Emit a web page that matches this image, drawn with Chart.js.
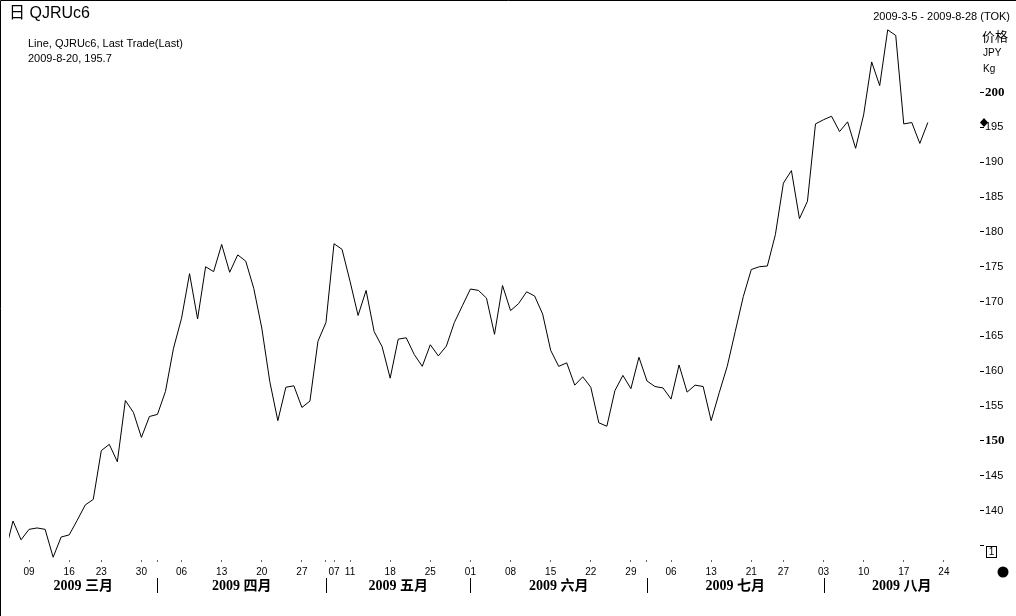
<!DOCTYPE html>
<html><head><meta charset="utf-8">
<script src="https://cdn.jsdelivr.net/npm/chart.js@4"></script>
<style>html,body{margin:0;padding:0;background:#fff;}canvas{display:block}</style>
</head><body>
<canvas id="c" width="1016" height="616"></canvas>
<script>
// Trading days (TOCOM), the first one precedes the range start and is clipped at the left edge
const dates = [
 '2009-03-04','2009-03-05','2009-03-06','2009-03-09','2009-03-10','2009-03-11','2009-03-12','2009-03-13',
 '2009-03-16','2009-03-17','2009-03-18','2009-03-19','2009-03-23','2009-03-24','2009-03-25','2009-03-26','2009-03-27',
 '2009-03-30','2009-03-31',
 '2009-04-01','2009-04-02','2009-04-03','2009-04-06','2009-04-07','2009-04-08','2009-04-09','2009-04-10',
 '2009-04-13','2009-04-14','2009-04-15','2009-04-16','2009-04-17','2009-04-20','2009-04-21','2009-04-22','2009-04-23','2009-04-24',
 '2009-04-27','2009-04-28','2009-04-30',
 '2009-05-01','2009-05-07','2009-05-08','2009-05-11','2009-05-12','2009-05-13','2009-05-14','2009-05-15',
 '2009-05-18','2009-05-19','2009-05-20','2009-05-21','2009-05-22','2009-05-25','2009-05-26','2009-05-27','2009-05-28','2009-05-29',
 '2009-06-01','2009-06-02','2009-06-03','2009-06-04','2009-06-05','2009-06-08','2009-06-09','2009-06-10','2009-06-11','2009-06-12',
 '2009-06-15','2009-06-16','2009-06-17','2009-06-18','2009-06-19','2009-06-22','2009-06-23','2009-06-24','2009-06-25','2009-06-26',
 '2009-06-29','2009-06-30',
 '2009-07-01','2009-07-02','2009-07-03','2009-07-06','2009-07-07','2009-07-08','2009-07-09','2009-07-10',
 '2009-07-13','2009-07-14','2009-07-15','2009-07-16','2009-07-17','2009-07-21','2009-07-22','2009-07-23','2009-07-24',
 '2009-07-27','2009-07-28','2009-07-29','2009-07-30','2009-07-31',
 '2009-08-03','2009-08-04','2009-08-05','2009-08-06','2009-08-07','2009-08-10','2009-08-11','2009-08-12','2009-08-13','2009-08-14',
 '2009-08-17','2009-08-18','2009-08-19','2009-08-20','2009-08-21','2009-08-24','2009-08-25','2009-08-26','2009-08-27','2009-08-28'
];
// Last trade, JPY/kg
const prices = [
 133.9,138.5,135.8,137.3,137.5,137.3,133.3,136.2,
 136.5,138.6,140.8,141.6,148.6,149.5,147.0,155.8,154.1,
 150.5,153.5,
 153.8,157.1,163.3,167.6,174.0,167.5,175.0,174.3,
 178.2,174.2,176.7,175.8,171.9,166.2,158.5,152.9,157.7,157.9,
 154.8,155.7,164.3,
 167.0,178.3,177.5,172.9,168.0,171.6,165.7,163.5,
 159.0,164.6,164.8,162.4,160.7,163.8,162.2,163.6,167.0,169.4,
 171.8,171.6,170.5,165.3,172.3,168.7,169.7,171.4,170.8,168.2,
 163.0,160.7,161.2,158.0,159.2,157.7,152.6,152.1,157.2,159.4,
 157.5,162.0,
 158.6,157.8,157.6,156.0,160.9,157.0,158.0,157.8,
 152.9,156.9,160.7,165.7,170.7,174.6,175.0,175.1,179.6,
 187.0,188.8,181.9,184.4,195.5,
 196.1,196.6,194.4,195.8,192.0,196.8,204.4,201.0,209.0,208.2,
 195.5,195.7,192.7,195.7
];
const tickDates = ['2009-03-09','2009-03-16','2009-03-23','2009-03-30','2009-04-06','2009-04-13','2009-04-20','2009-04-27',
 '2009-05-07','2009-05-11','2009-05-18','2009-05-25','2009-06-01','2009-06-08','2009-06-15','2009-06-22','2009-06-29',
 '2009-07-06','2009-07-13','2009-07-21','2009-07-27','2009-08-03','2009-08-10','2009-08-17','2009-08-24'];
const tickLabels = ['09','16','23','30','06','13','20','27','07','11','18','25','01','08','15','22','29','06','13','21','27','03','10','17','24'];
const monthStartDates = ['2009-04-01','2009-05-01','2009-06-01','2009-07-01','2009-08-03'];
const monthLabels = ['2009 三月','2009 四月','2009 五月','2009 六月','2009 七月','2009 八月'];
const yTickValues = [135,140,145,150,155,160,165,170,175,180,185,190,195,200];
const yLabelled = [140,145,150,155,160,165,170,175,180,185,190,195,200];
const yMajor = [150,200];
const titleText = '日 QJRUc6';
const infoLines = ['Line, QJRUc6, Last Trade(Last)','2009-8-20, 195.7'];
const rangeText = '2009-3-5 - 2009-8-28 (TOK)';
const unitLines = ['价格','JPY','Kg'];

const tickIdx = tickDates.map(d => dates.indexOf(d));
const monthIdx = monthStartDates.map(d => dates.indexOf(d));
const allTickIdx = Array.from(new Set(tickIdx.concat(monthIdx))).sort((a,b)=>a-b);
const lastValue = prices[prices.length-1];

const SANS = "'Liberation Sans', Arial, 'Noto Sans CJK SC', sans-serif";
const decor = {
  id:'decor',
  afterDraw(chart){
    const c = chart.ctx, xs = chart.scales.x, ys = chart.scales.y, a = chart.chartArea;
    c.save();
    c.strokeStyle = '#000'; c.lineWidth = 1;
    c.beginPath(); c.moveTo(0.5,616); c.lineTo(0.5,0.5); c.lineTo(1016,0.5); c.stroke();
    c.fillStyle = '#000'; c.textBaseline = 'middle'; c.textAlign = 'left';
    c.font = "16px " + SANS;
    c.fillText(titleText, 9, 14);
    c.font = "11px " + SANS;
    c.fillText(infoLines[0], 28, 44);
    c.fillText(infoLines[1], 28, 59);
    c.textAlign = 'right';
    c.fillText(rangeText, 1010, 17);
    c.textAlign = 'left';
    c.font = "13px 'Noto Sans CJK SC', sans-serif";
    c.fillText(unitLines[0], 982, 36);
    c.font = "10px " + SANS;
    c.fillText(unitLines[1], 983, 53);
    c.fillText(unitLines[2], 983, 69);
    const seps = monthIdx.map(i => xs.getPixelForValue(i));
    const edges = [a.left].concat(seps, [a.right]);
    c.beginPath();
    seps.forEach(x => { const px = Math.round(x)+0.5; c.moveTo(px, 578); c.lineTo(px, 593); });
    c.stroke();
    c.font = "bold 14px 'Liberation Serif', 'Noto Sans CJK SC', serif";
    c.textAlign = 'center';
    monthLabels.forEach((t,i) => c.fillText(t, (edges[i]+edges[i+1])/2, 586));
    const yd = ys.getPixelForValue(lastValue), xd = 984;
    c.beginPath(); c.moveTo(xd, yd-4.5); c.lineTo(xd+4, yd); c.lineTo(xd, yd+4.5); c.lineTo(xd-4, yd); c.closePath(); c.fill();
    c.fillStyle = '#fff'; c.fillRect(986, 546, 11, 12); c.fillStyle = '#000';
    c.strokeRect(986.5, 546.5, 10, 11);
    c.font = "10px " + SANS; c.textAlign = 'center';
    c.fillText('1', 991.5, 552.5);
    c.beginPath(); c.arc(1003, 572, 5.5, 0, Math.PI*2); c.fill();
    c.restore();
  }
};

new Chart(document.getElementById('c'), {
  type:'line',
  data:{ datasets:[{ data: prices.map((v,i)=>({x:i, y:v})), borderColor:'#000', borderWidth:1, pointRadius:0, tension:0, fill:false }] },
  options:{
    responsive:false, animation:false, devicePixelRatio:1,
    layout:{padding:{left:9, right:0, top:2, bottom:0}},
    plugins:{legend:{display:false}, tooltip:{enabled:false}},
    scales:{
      x:{
        type:'linear', min:0.5, max:dates.length-0.5,
        afterBuildTicks: s => { s.ticks = allTickIdx.map(v => ({value:v})); },
        afterFit: s => { s.height = 56; s.paddingLeft = 0; s.paddingRight = 0; },
        grid:{display:true, drawOnChartArea:false, drawTicks:true, tickLength:2, color:'#666'},
        border:{display:false},
        ticks:{autoSkip:false, maxRotation:0, minRotation:0, padding:4, color:'#000',
          font:{family:"'Liberation Sans', Arial, sans-serif", size:10},
          callback: v => { const k = tickIdx.indexOf(v); return k >= 0 ? tickLabels[k] : ''; } }
      },
      y:{
        position:'right', min:132.9, max:213.0,
        afterBuildTicks: s => { s.ticks = yTickValues.map(v => ({value:v})); },
        afterFit: s => { s.width = 36; s.paddingTop = 0; s.paddingBottom = 0; },
        grid:{display:true, drawOnChartArea:false, drawTicks:true, tickLength:4, color:'#000', offset:false},
        border:{display:false},
        ticks:{padding:1, color:'#000', callback: v => yLabelled.includes(v) ? String(v) : '',
          font: ctx => (ctx.tick && yMajor.includes(ctx.tick.value)) ? {family:"'Liberation Serif', serif", size:13, weight:'bold'} : {family:"'Liberation Sans', Arial, sans-serif", size:11} }
      }
    }
  },
  plugins:[decor]
});
</script>
</body></html>
